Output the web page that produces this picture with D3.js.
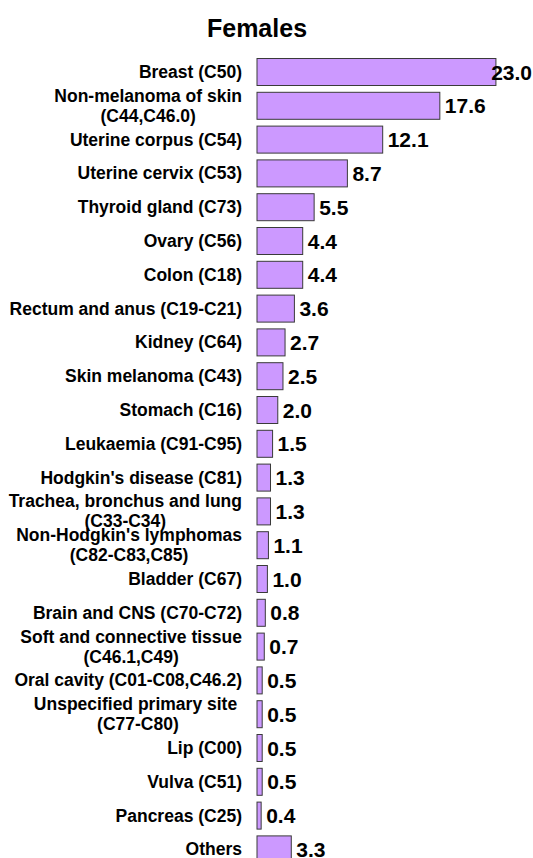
<!DOCTYPE html>
<html>
<head>
<meta charset="utf-8">
<script src="https://cdn.jsdelivr.net/npm/d3@7"></script>
<style>
  html, body { margin: 0; padding: 0; background: #fff; }
  svg { display: block; }
  text { font-family: "Liberation Sans", Arial, Helvetica, sans-serif; font-weight: bold; fill: #000; }
</style>
</head>
<body>
<svg id="chart" width="533" height="858"></svg>
<script>
const title = "Females";
const categories = [
  "Breast (C50)",
  "Non-melanoma of skin\n(C44,C46.0)",
  "Uterine corpus (C54)",
  "Uterine cervix (C53)",
  "Thyroid gland (C73)",
  "Ovary (C56)",
  "Colon (C18)",
  "Rectum and anus (C19-C21)",
  "Kidney (C64)",
  "Skin melanoma (C43)",
  "Stomach (C16)",
  "Leukaemia (C91-C95)",
  "Hodgkin's disease (C81)",
  "Trachea, bronchus and lung\n(C33-C34)",
  "Non-Hodgkin's lymphomas\n(C82-C83,C85)",
  "Bladder (C67)",
  "Brain and CNS (C70-C72)",
  "Soft and connective tissue\n(C46.1,C49)",
  "Oral cavity (C01-C08,C46.2)",
  "Unspecified primary site \n(C77-C80)",
  "Lip (C00)",
  "Vulva (C51)",
  "Pancreas (C25)",
  "Others"
];
const values = [23.0, 17.6, 12.1, 8.7, 5.5, 4.4, 4.4, 3.6, 2.7, 2.5, 2.0, 1.5, 1.3, 1.3, 1.1, 1.0, 0.8, 0.7, 0.5, 0.5, 0.5, 0.5, 0.4, 3.3];

const data = categories.map((c, i) => ({ cat: c, value: values[i] }));

const W = 533, H = 858;
const svg = d3.select("#chart");

const x = d3.scaleLinear().domain([0, 25]).range([257, 516.7]);
const y = d3.scaleBand().domain(categories).range([55.1, 866.3])
  .paddingInner(0.2012).paddingOuter(0.1006);

// Title
svg.append("text")
  .attr("x", 257).attr("y", 37)
  .attr("text-anchor", "middle")
  .style("font-size", "25px")
  .text(title);

// Bars
svg.append("g").selectAll("rect")
  .data(data).join("rect")
  .attr("x", x(0))
  .attr("y", d => y(d.cat))
  .attr("width", d => x(d.value) - x(0))
  .attr("height", y.bandwidth())
  .attr("fill", "#CC99FF")
  .attr("stroke", "#3a3a3a")
  .attr("stroke-width", 1);

// Category axis
const axisG = svg.append("g")
  .attr("transform", `translate(${x(0)},0)`)
  .call(d3.axisLeft(y).tickSize(0).tickPadding(15).tickFormat(d => d));
axisG.select(".domain").remove();
axisG.selectAll("text")
  .style("font-size", "17.5px")
  .attr("font-family", null)
  .each(function(d) {
    const t = d3.select(this);
    const lines = d.split("\n");
    t.text(null).attr("dy", null);
    const lineH = 20;
    const n = lines.length;
    const tspans = lines.map((ln, i) => t.append("tspan")
      .attr("xml:space", "preserve")
      .style("white-space", "pre")
      .attr("dy", i === 0 ? ((-(n - 1) / 2) * lineH + 6) + "px" : lineH + "px")
      .text(ln));
    const widths = tspans.map(ts => ts.node().getComputedTextLength());
    const bw = d3.max(widths);
    const cx = -15 - bw / 2;
    t.attr("text-anchor", "middle");
    tspans.forEach(ts => ts.attr("x", cx));
  });

// Value labels
svg.append("g").selectAll("text")
  .data(data).join("text")
  .style("font-size", "21px")
  .attr("y", d => y(d.cat) + y.bandwidth() / 2)
  .attr("dy", "0.36em")
  .text(d => d3.format(".1f")(d.value))
  .attr("x", function(d) {
    const w = this.getComputedTextLength();
    return Math.min(x(d.value) + 5, W - w - 1);
  });
</script>
</body>
</html>
